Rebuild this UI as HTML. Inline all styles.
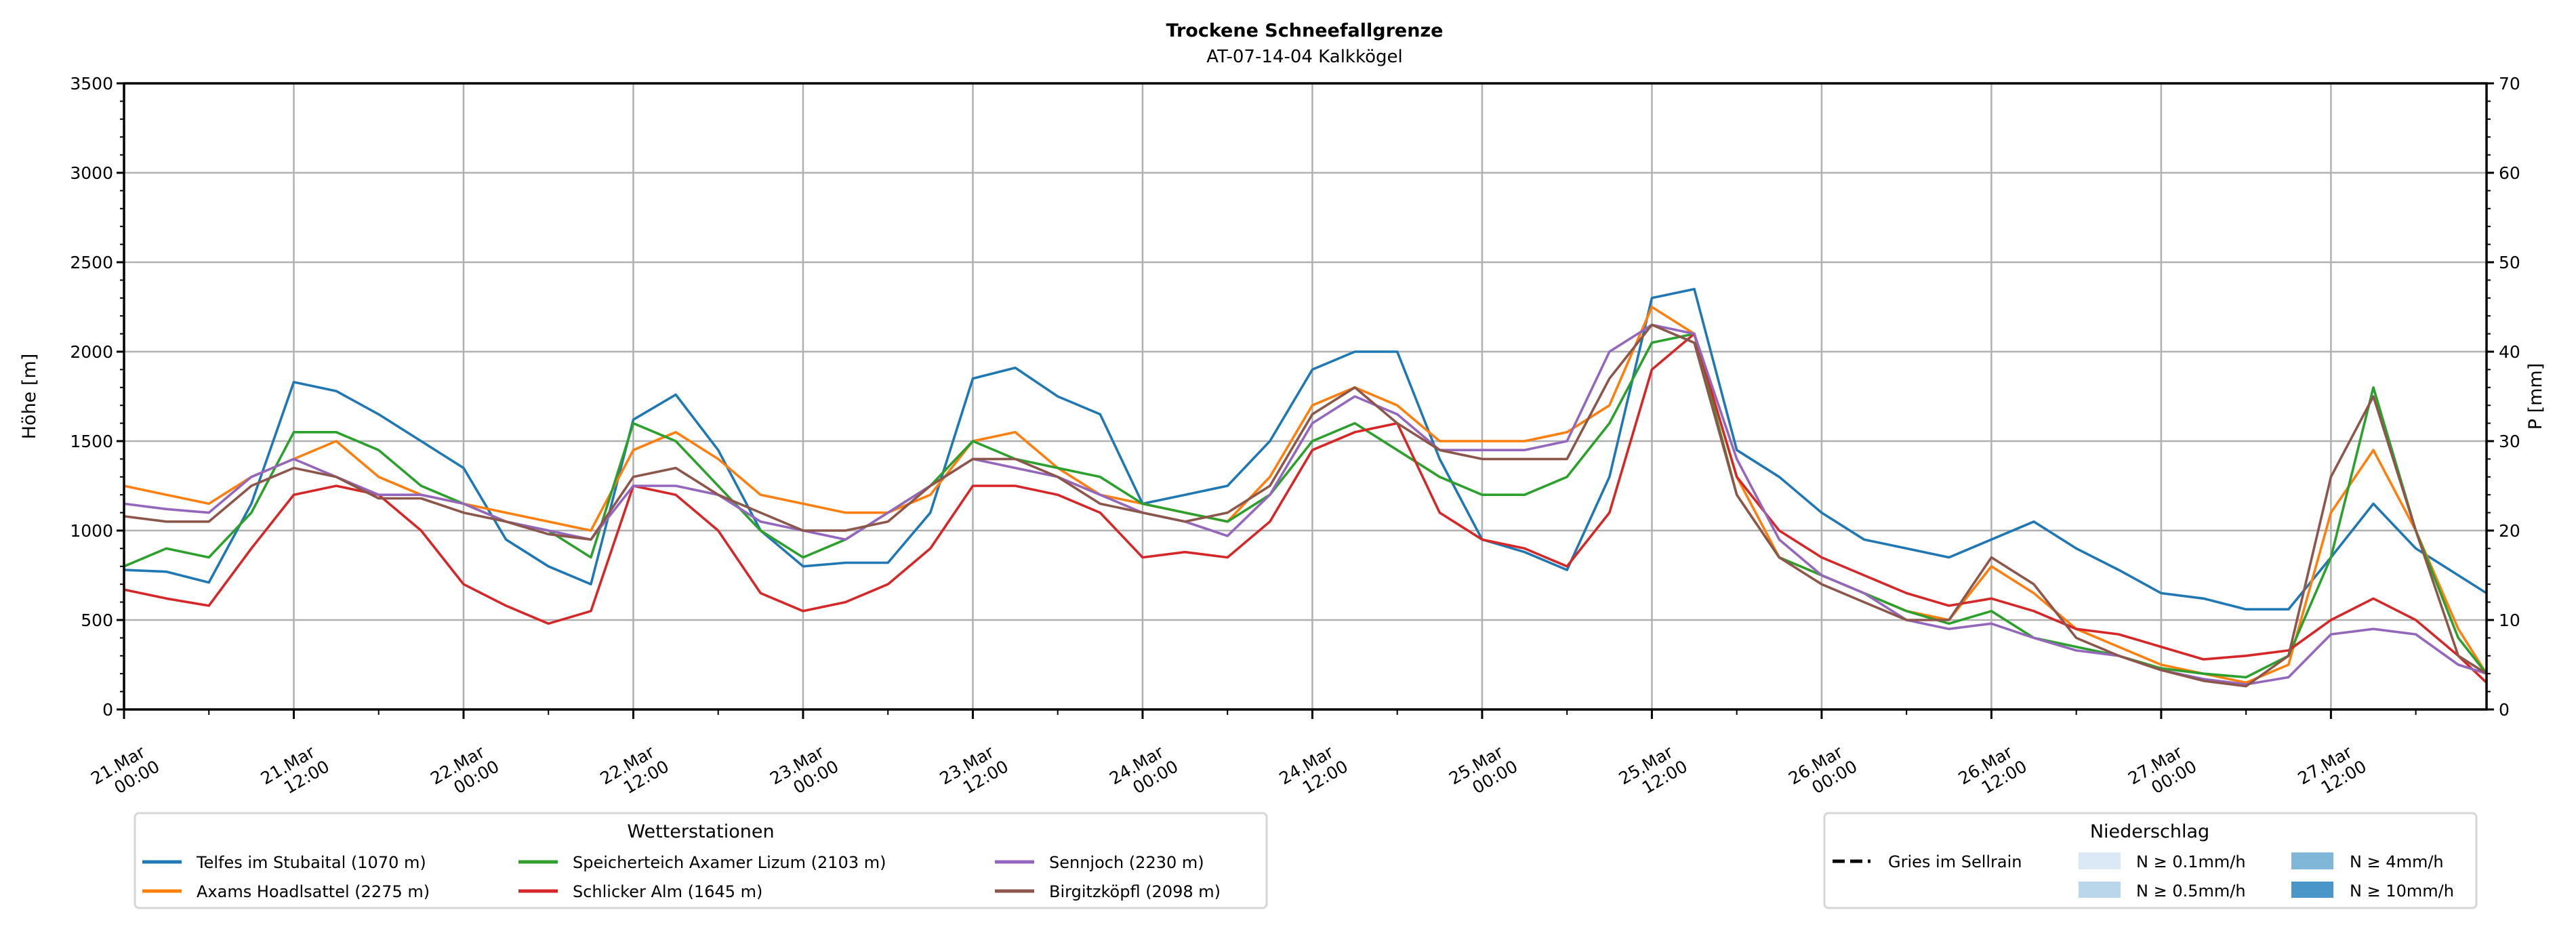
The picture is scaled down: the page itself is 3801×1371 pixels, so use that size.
<!DOCTYPE html>
<html><head><meta charset="utf-8"><style>
html,body{margin:0;padding:0;background:#fff;}
svg{display:block;font-family:"DejaVu Sans","Liberation Sans",sans-serif;}
</style></head><body>
<svg id="chart" width="3801" height="1371" viewBox="0 0 3801 1371">
<rect width="3801" height="1371" fill="#fff"/>
<text x="1925" y="54" text-anchor="middle" font-size="27" font-weight="bold">Trockene Schneefallgrenze</text>
<text x="1925" y="92" text-anchor="middle" font-size="26">AT-07-14-04 Kalkkögel</text>
<g id="grid"></g>
<g id="lines"></g>
<g id="axes"></g>
<text transform="translate(52,585) rotate(-90)" text-anchor="middle" font-size="27">Höhe [m]</text>
<text transform="translate(3750,585) rotate(-90)" text-anchor="middle" font-size="27">P [mm]</text>
<g>
<rect x="199" y="1200" width="1670" height="140" rx="6" fill="#fff" stroke="#d6d6d6" stroke-width="3"/>
<text x="1034" y="1236" text-anchor="middle" font-size="27">Wetterstationen</text>
<g id="leg"></g>
</g>
<g>
<rect x="2692" y="1200" width="962" height="140" rx="6" fill="#fff" stroke="#d6d6d6" stroke-width="3"/>
<text x="3172" y="1236" text-anchor="middle" font-size="27">Niederschlag</text>
<line x1="2704" y1="1271" x2="2760" y2="1271" stroke="#000" stroke-width="5" stroke-dasharray="18,8"/>
<text x="2786" y="1280" font-size="24">Gries im Sellrain</text>
<rect x="3067" y="1258" width="62" height="25" fill="#dbe9f6"/>
<text x="3152" y="1280" font-size="24">N ≥ 0.1mm/h</text>
<rect x="3067" y="1301" width="62" height="24" fill="#bad6eb"/>
<text x="3152" y="1323" font-size="24">N ≥ 0.5mm/h</text>
<rect x="3381" y="1258" width="62" height="25" fill="#80b6d8"/>
<text x="3467" y="1280" font-size="24">N ≥ 4mm/h</text>
<rect x="3381" y="1301" width="62" height="24" fill="#4a96c8"/>
<text x="3467" y="1323" font-size="24">N ≥ 10mm/h</text>
</g>
</svg>
<script>
const hours=[0,3,6,9,12,15,18,21,24,27,30,33,36,39,42,45,48,51,54,57,60,63,66,69,72,75,78,81,84,87,90,93,96,99,102,105,108,111,114,117,120,123,126,129,132,135,138,141,144,147,150,153,156,159,162,165,167];
const telfes=[780,770,710,1150,1830,1780,1650,1500,1350,950,800,700,1620,1760,1450,1000,800,820,820,1100,1850,1910,1750,1650,1150,1200,1250,1500,1900,2000,2000,1400,950,880,780,1300,2300,2350,1450,1300,1100,950,900,850,950,1050,900,780,650,620,560,560,850,1150,900,750,650];
const axams=[1250,1200,1150,1300,1400,1500,1300,1200,1150,1100,1050,1000,1450,1550,1400,1200,1150,1100,1100,1200,1500,1550,1350,1200,1150,1100,1050,1300,1700,1800,1700,1500,1500,1500,1550,1700,2250,2100,1300,850,750,650,550,500,800,650,450,350,250,200,150,250,1100,1450,1000,450,200];
const speicher=[800,900,850,1100,1550,1550,1450,1250,1150,1050,1000,850,1600,1500,1250,1000,850,950,1100,1250,1500,1400,1350,1300,1150,1100,1050,1200,1500,1600,1450,1300,1200,1200,1300,1600,2050,2100,1200,850,750,650,550,480,550,400,350,300,230,200,180,300,850,1800,1000,400,200];
const schlicker=[670,620,580,900,1200,1250,1200,1000,700,580,480,550,1250,1200,1000,650,550,600,700,900,1250,1250,1200,1100,850,880,850,1050,1450,1550,1600,1100,950,900,800,1100,1900,2100,1300,1000,850,750,650,580,620,550,450,420,350,280,300,330,500,620,500,300,150];
const sennjoch=[1150,1120,1100,1300,1400,1300,1200,1200,1150,1050,1000,950,1250,1250,1200,1050,1000,950,1100,1250,1400,1350,1300,1200,1100,1050,970,1200,1600,1750,1650,1450,1450,1450,1500,2000,2150,2100,1400,950,750,650,500,450,480,400,330,300,220,170,140,180,420,450,420,250,200];
const birgitz=[1080,1050,1050,1250,1350,1300,1180,1180,1100,1050,980,950,1300,1350,1200,1100,1000,1000,1050,1250,1400,1400,1300,1150,1100,1050,1100,1250,1650,1800,1600,1450,1400,1400,1400,1850,2150,2050,1200,850,700,600,500,500,850,700,400,300,220,160,130,300,1300,1750,1000,300,200];
const yTicks=[0,500,1000,1500,2000,2500,3000,3500];
const y2Ticks=[0,10,20,30,40,50,60,70];
const xTickLabels=[["21.Mar","00:00"],["21.Mar","12:00"],["22.Mar","00:00"],["22.Mar","12:00"],["23.Mar","00:00"],["23.Mar","12:00"],["24.Mar","00:00"],["24.Mar","12:00"],["25.Mar","00:00"],["25.Mar","12:00"],["26.Mar","00:00"],["26.Mar","12:00"],["27.Mar","00:00"],["27.Mar","12:00"]];
const seriesNames=["Telfes im Stubaital (1070 m)","Axams Hoadlsattel (2275 m)","Speicherteich Axamer Lizum (2103 m)","Schlicker Alm (1645 m)","Sennjoch (2230 m)","Birgitzköpfl (2098 m)"];

const L=183,R=3669,T=123,B=1047,XMAX=167,YMAX=3500;
const xs=h=>L+(R-L)*h/XMAX, ys=v=>B-(B-T)*v/YMAX;
const NS="http://www.w3.org/2000/svg";
function mk(tag,attrs,parent){const e=document.createElementNS(NS,tag);for(const k in attrs)e.setAttribute(k,attrs[k]);parent.appendChild(e);return e;}
const grid=document.getElementById('grid'),lines=document.getElementById('lines'),axes=document.getElementById('axes'),leg=document.getElementById('leg');
yTicks.forEach(v=>{const g=mk('line',{x1:L,x2:R,y1:ys(v),y2:ys(v),stroke:'#b0b0b0','stroke-width':2.5},grid);

});
xTickLabels.forEach((lab,i)=>{const x=xs(i*12);const g=mk('line',{x1:x,x2:x,y1:T,y2:B,stroke:'#b0b0b0','stroke-width':2.5},grid);

});
const colors=['#1f77b4','#ff7f0e','#2ca02c','#d62728','#9467bd','#8c564b'];
const data=[telfes,axams,speicher,schlicker,sennjoch,birgitz];
data.forEach((s,i)=>{const d=s.map((v,j)=>(j?'L':'M')+xs(hours[j]).toFixed(1)+','+ys(v).toFixed(1)).join('');
const p=mk('path',{d:d,fill:'none',stroke:colors[i],'stroke-width':3.6,'stroke-linejoin':'round'},lines);

});
mk('rect',{x:L,y:T,width:R-L,height:B-T,fill:'none',stroke:'#000','stroke-width':3.5},axes);
for(let v=0;v<=YMAX;v+=100){const major=v%500===0;mk('line',{x1:L-(major?11:6),x2:L,y1:ys(v),y2:ys(v),stroke:'#000','stroke-width':major?3:2},axes);}
yTicks.forEach(v=>{const t=mk('text',{x:L-16,y:ys(v)+9,'text-anchor':'end','font-size':25},axes);t.textContent=v;

});
for(let v=0;v<=70;v+=2){const major=v%10===0;mk('line',{x1:R,x2:R+(major?11:6),y1:B-(B-T)*v/70,y2:B-(B-T)*v/70,stroke:'#000','stroke-width':major?3:2},axes);}
y2Ticks.forEach(v=>{const t=mk('text',{x:R+18,y:B-(B-T)*v/70+9,'font-size':25},axes);t.textContent=v;

});
for(let h=0;h<=XMAX;h+=6){const major=h%12===0;mk('line',{x1:xs(h),x2:xs(h),y1:B,y2:B+(major?14:8),stroke:'#000','stroke-width':major?3:2},axes);}
xTickLabels.forEach((lab,i)=>{const x=xs(i*12);const t=mk('text',{transform:`translate(${x+33},${B+68}) rotate(-30)`,'text-anchor':'end','font-size':25},axes);


const a=mk('tspan',{x:0,dy:0},t);a.textContent=lab[0];const b=mk('tspan',{x:8,dy:29},t);b.textContent=lab[1];});
const lx=[210,765,1468],ly=[1272,1315];
const order=[[0,0],[0,1],[1,0],[1,1],[2,0],[2,1]];
const legIdx=[0,1,2,3,4,5];
legIdx.forEach((si,k)=>{const [c,r]=order[k];mk('line',{x1:lx[c],x2:lx[c]+58,y1:ly[r],y2:ly[r],stroke:colors[si],'stroke-width':5},leg);
const t=mk('text',{x:lx[c]+80,y:ly[r]+9,'font-size':24},leg);t.textContent=seriesNames[si];

});
</script>
</body></html>
